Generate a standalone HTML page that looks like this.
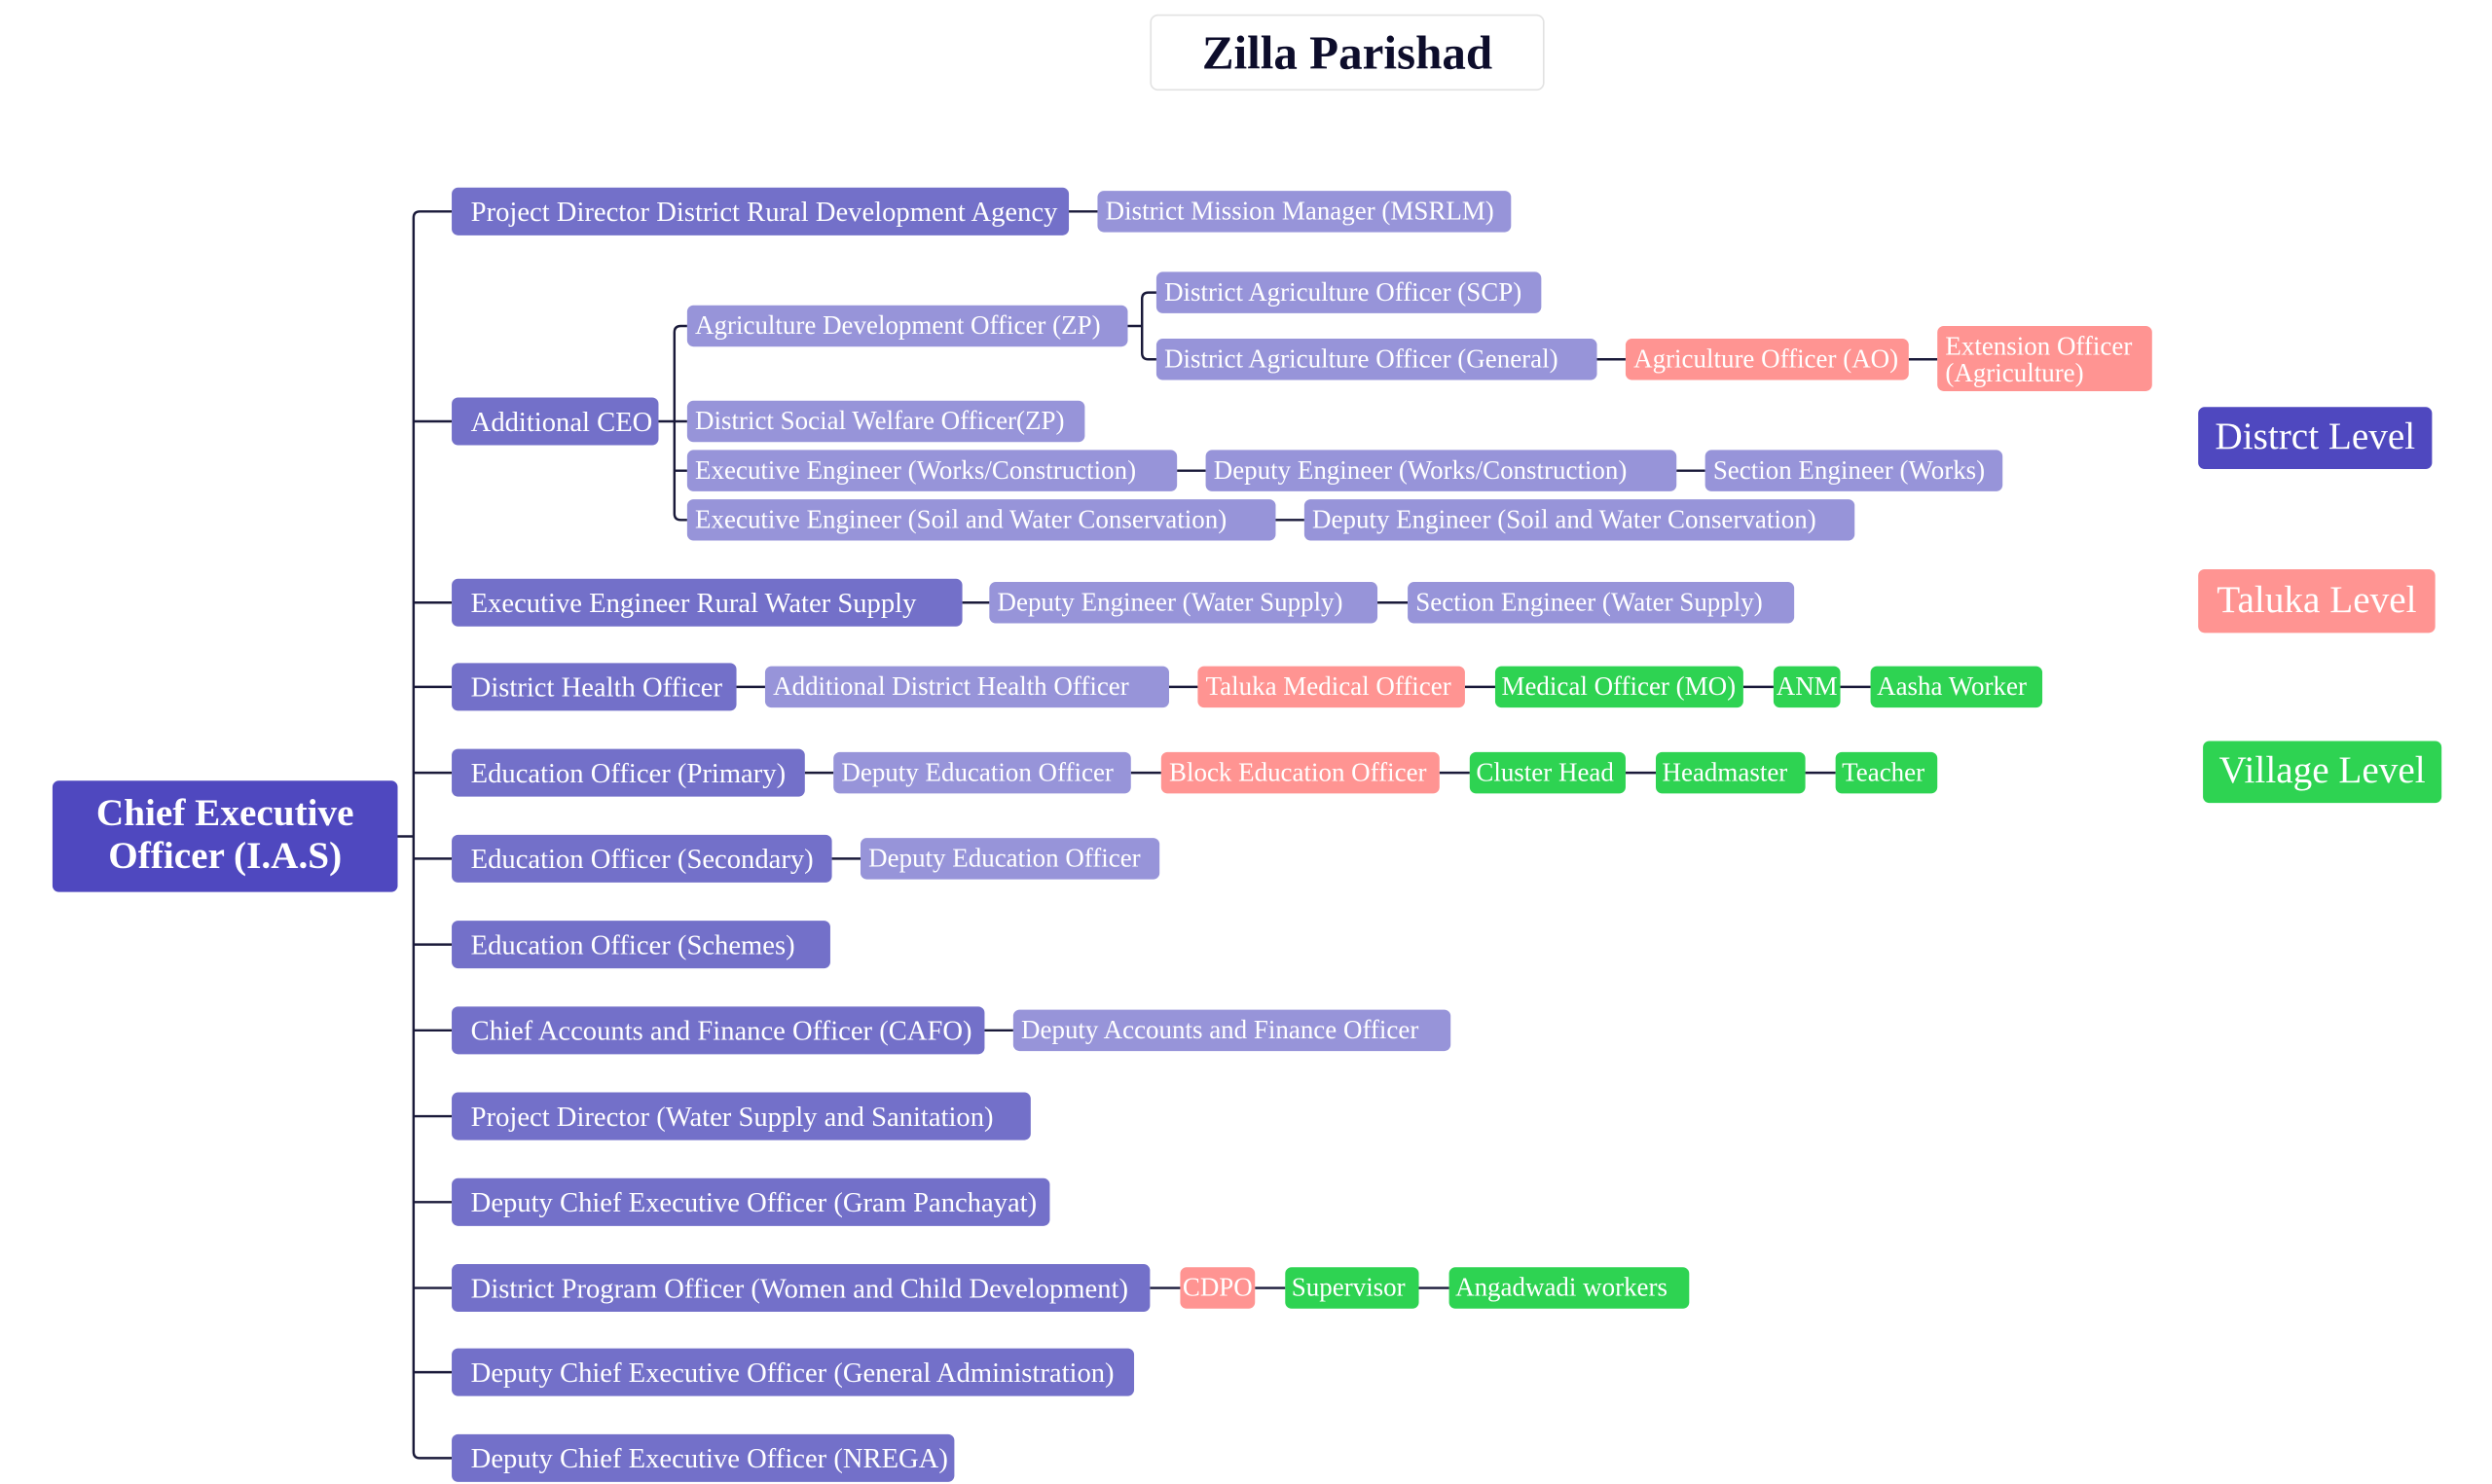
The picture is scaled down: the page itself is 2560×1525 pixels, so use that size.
<!DOCTYPE html>
<html><head><meta charset="utf-8"><style>
html,body{margin:0;padding:0;background:#fff;}
body{width:2560px;height:1525px;overflow:hidden;position:relative;}
#w{position:absolute;left:0;top:0;width:1560px;height:930px;transform:scale(1.634);transform-origin:0 0;font-family:"Liberation Serif",serif;}
.b{position:absolute;color:#fff;border-radius:4px;white-space:nowrap;font-size:16.5px;box-sizing:border-box;overflow:visible;}
.m{background:#7370c9;height:30px;line-height:30px;padding-left:12px;font-size:17.5px;}
.l{background:#9794d9;height:26px;line-height:26px;padding-left:5px;}
.s{background:#ff9492;height:26px;line-height:26px;padding-left:5px;}
.g{background:#2ed352;height:26px;line-height:26px;padding-left:4px;}
.c{padding-left:0;text-align:center;}
svg{position:absolute;left:0;top:0;}
</style></head><body><div id="w">
<svg width="1560" height="930" fill="none" stroke="#1a1a3a" stroke-width="1.5">
<path d="M250 526H260"/>
<path d="M284 133H264Q260 133 260 137V913Q260 917 264 917H284"/>
<path d="M260 265H284M260 379H284M260 432H284M260 486H284M260 540H284M260 594H284M260 648H284M260 702H284M260 756H284M260 810H284M260 863H284"/>
<path d="M414 265H432M432 205H428Q424 205 424 209V323Q424 327 428 327H432M424 296H432"/>
<path d="M709 205H718M727 184H722Q718 184 718 188V222Q718 226 722 226H727"/>
<path d="M672 133H690M1004 226H1022M1200 226H1218M740 296H758M1054 296H1072M802 327H820"/>
<path d="M605 379H622M866 379H885M463 432H481M735 432H753M921 432H940M1096 432H1115M1157 432H1176"/>
<path d="M506 486H524M711 486H730M905 486H924M1022 486H1041M1135 486H1154M523 540H541M619 648H637M723 810H742M789 810H808M892 810H911"/>
</svg>
<div class="b" style="left:723px;top:9px;width:248px;height:48px;line-height:48px;text-align:center;color:#0d0d2b;font-weight:bold;font-size:30px;border:1px solid #e2e2e2;border-radius:5px;background:#fff">Zilla Parishad</div>
<div class="b" style="left:33px;top:491px;width:217px;height:70px;background:#4f48bf;font-weight:bold;font-size:24px;line-height:27px;text-align:center;padding-top:8px;white-space:normal">Chief Executive Officer (I.A.S)</div>
<div class="b" style="left:1382px;top:256px;width:147px;height:39px;line-height:39px;text-align:center;background:#4f48bf;font-size:24px">Distrct Level</div>
<div class="b" style="left:1382px;top:358px;width:149px;height:40px;line-height:40px;text-align:center;background:#ff9492;font-size:24px">Taluka Level</div>
<div class="b" style="left:1385px;top:466px;width:150px;height:39px;line-height:39px;text-align:center;background:#2ed352;font-size:24px">Village Level</div>

<div class="b m" style="left:284px;top:118px;width:388px">Project Director District Rural Development Agency</div>
<div class="b l" style="left:690px;top:120px;width:260px">District Mission Manager (MSRLM)</div>

<div class="b m" style="left:284px;top:250px;width:130px">Additional CEO</div>
<div class="b l" style="left:432px;top:192px;width:277px">Agriculture Development Officer (ZP)</div>
<div class="b l" style="left:727px;top:171px;width:242px">District Agriculture Officer (SCP)</div>
<div class="b l" style="left:727px;top:213px;width:277px">District Agriculture Officer (General)</div>
<div class="b s" style="left:1022px;top:213px;width:178px">Agriculture Officer (AO)</div>
<div class="b s" style="left:1218px;top:205px;width:135px;height:41px;line-height:17px;padding-top:4px;white-space:normal">Extension Officer (Agriculture)</div>
<div class="b l" style="left:432px;top:252px;width:250px">District Social Welfare Officer(ZP)</div>
<div class="b l" style="left:432px;top:283px;width:308px">Executive Engineer (Works/Construction)</div>
<div class="b l" style="left:758px;top:283px;width:296px">Deputy Engineer (Works/Construction)</div>
<div class="b l" style="left:1072px;top:283px;width:187px">Section Engineer (Works)</div>
<div class="b l" style="left:432px;top:314px;width:370px">Executive Engineer (Soil and Water Conservation)</div>
<div class="b l" style="left:820px;top:314px;width:346px">Deputy Engineer (Soil and Water Conservation)</div>

<div class="b m" style="left:284px;top:364px;width:321px">Executive Engineer Rural Water Supply</div>
<div class="b l" style="left:622px;top:366px;width:244px">Deputy Engineer (Water Supply)</div>
<div class="b l" style="left:885px;top:366px;width:243px">Section Engineer (Water Supply)</div>

<div class="b m" style="left:284px;top:417px;width:179px">District Health Officer</div>
<div class="b l" style="left:481px;top:419px;width:254px">Additional District Health Officer</div>
<div class="b s" style="left:753px;top:419px;width:168px">Taluka Medical Officer</div>
<div class="b g" style="left:940px;top:419px;width:156px">Medical Officer (MO)</div>
<div class="b g c" style="left:1115px;top:419px;width:42px">ANM</div>
<div class="b g" style="left:1176px;top:419px;width:108px">Aasha Worker</div>

<div class="b m" style="left:284px;top:471px;width:222px">Education Officer (Primary)</div>
<div class="b l" style="left:524px;top:473px;width:187px">Deputy Education Officer</div>
<div class="b s" style="left:730px;top:473px;width:175px">Block Education Officer</div>
<div class="b g" style="left:924px;top:473px;width:98px">Cluster Head</div>
<div class="b g" style="left:1041px;top:473px;width:94px">Headmaster</div>
<div class="b g" style="left:1154px;top:473px;width:64px">Teacher</div>

<div class="b m" style="left:284px;top:525px;width:239px">Education Officer (Secondary)</div>
<div class="b l" style="left:541px;top:527px;width:188px">Deputy Education Officer</div>
<div class="b m" style="left:284px;top:579px;width:238px">Education Officer (Schemes)</div>
<div class="b m" style="left:284px;top:633px;width:335px">Chief Accounts and Finance Officer (CAFO)</div>
<div class="b l" style="left:637px;top:635px;width:275px">Deputy Accounts and Finance Officer</div>
<div class="b m" style="left:284px;top:687px;width:364px">Project Director (Water Supply and Sanitation)</div>
<div class="b m" style="left:284px;top:741px;width:376px">Deputy Chief Executive Officer (Gram Panchayat)</div>
<div class="b m" style="left:284px;top:795px;width:439px">District Program Officer (Women and Child Development)</div>
<div class="b s c" style="left:742px;top:797px;width:47px">CDPO</div>
<div class="b g" style="left:808px;top:797px;width:84px">Supervisor</div>
<div class="b g" style="left:911px;top:797px;width:151px">Angadwadi workers</div>
<div class="b m" style="left:284px;top:848px;width:429px">Deputy Chief Executive Officer (General Administration)</div>
<div class="b m" style="left:284px;top:902px;width:316px">Deputy Chief Executive Officer (NREGA)</div>
</div></body></html>
